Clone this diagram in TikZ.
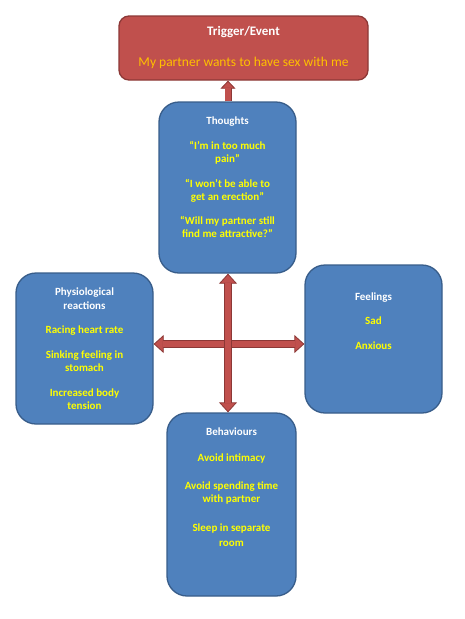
\documentclass[tikz,border=0pt]{standalone}
\usepackage{fontspec}
\setmainfont{Carlito}
\usetikzlibrary{arrows.meta}
\definecolor{boxblue}{HTML}{4F81BD}
\definecolor{boxline}{HTML}{385D8A}
\definecolor{trigred}{HTML}{C0504D}
\definecolor{trigline}{HTML}{8C3836}
\definecolor{itemyellow}{HTML}{FFFF00}
\definecolor{eventorange}{HTML}{FFC000}
\begin{document}
\begin{tikzpicture}[x=1pt,y=-1pt,
  stage/.style={draw=boxline,fill=boxblue,line width=1.3pt,rounded corners=20pt},
  trigger/.style={draw=trigline,fill=trigred,line width=1.3pt,rounded corners=10pt},
  stagetext/.style={anchor=north,inner sep=0pt,align=center,text=itemyellow,
    font=\fontsize{11}{13}\selectfont\bfseries},
  linkarrow/.style={draw=trigline,line width=8pt,
    {Triangle[width=18pt,length=10pt,fill=trigred,line width=0.8pt]}-{Triangle[width=18pt,length=10pt,fill=trigred,line width=0.8pt]},
    postaction={draw=trigred,line width=6.4pt,arrows=-,shorten <=9pt,shorten >=9pt}},
  uparrow/.style={draw=trigline,line width=7pt,
    -{Triangle[width=15pt,length=8pt,fill=trigred,line width=0.8pt]},
    postaction={draw=trigred,line width=5.4pt,arrows=-,shorten >=7pt}}]
\useasboundingbox (0,0) rectangle (464,619);
% boxes
\node[trigger,minimum width=249pt,minimum height=64pt] (event) at (243.5,48) {};
\node[stage,minimum width=137pt,minimum height=171pt] (thoughts) at (227.5,187.5) {};
\node[stage,minimum width=137pt,minimum height=151pt] (body) at (84.5,348.5) {};
\node[stage,minimum width=137pt,minimum height=148pt] (feelings) at (373.5,339) {};
\node[stage,minimum width=129pt,minimum height=183pt] (behaviours) at (231.5,504.5) {};
% texts
\node[anchor=north,inner sep=0pt,align=center] (eventtxt) at ([yshift=-11pt]event.north)
  {\fontsize{13}{15}\selectfont\bfseries\textcolor{white}{Trigger/Event}\\[19pt]
   \fontsize{13.5}{15}\selectfont\mdseries\textcolor{eventorange}{My partner wants to have sex with me}};
\node[stagetext] (thoughtstxt) at ([yshift=-15pt]thoughts.north)
  {\textcolor{white}{Thoughts}\\[12pt]
   “I’m in too much\\pain”\\[12pt]
   “I won’t be able to\\get an erection”\\[11pt]
   “Will my partner still\\find me attractive?”};
\node[stagetext] (bodytxt) at ([yshift=-15pt]body.north)
  {\textcolor{white}{Physiological}\\[1pt]\textcolor{white}{reactions}\\[11pt]
   Racing heart rate\\[12pt]
   Sinking feeling in\\stomach\\[12pt]
   Increased body\\tension};
\node[stagetext] (feelingstxt) at ([yshift=-28pt]feelings.north)
  {\textcolor{white}{Feelings}\\[11pt]
   Sad\\[12pt]
   Anxious};
\node[stagetext] (behaviourstxt) at ([yshift=-15pt]behaviours.north)
  {\textcolor{white}{Behaviours}\\[13pt]
   Avoid intimacy\\[15pt]
   Avoid spending time\\with partner\\[16pt]
   Sleep in separate\\[2pt]room};
% arrows
\coordinate (hub) at (228,344);
\draw[linkarrow] (body.east |- hub) -- (feelings.west |- hub);
\draw[linkarrow] (hub |- thoughts.south) -- (hub |- behaviours.north);
\draw[uparrow] (hub |- thoughts.north) -- (hub |- event.south);
\end{tikzpicture}
\end{document}
